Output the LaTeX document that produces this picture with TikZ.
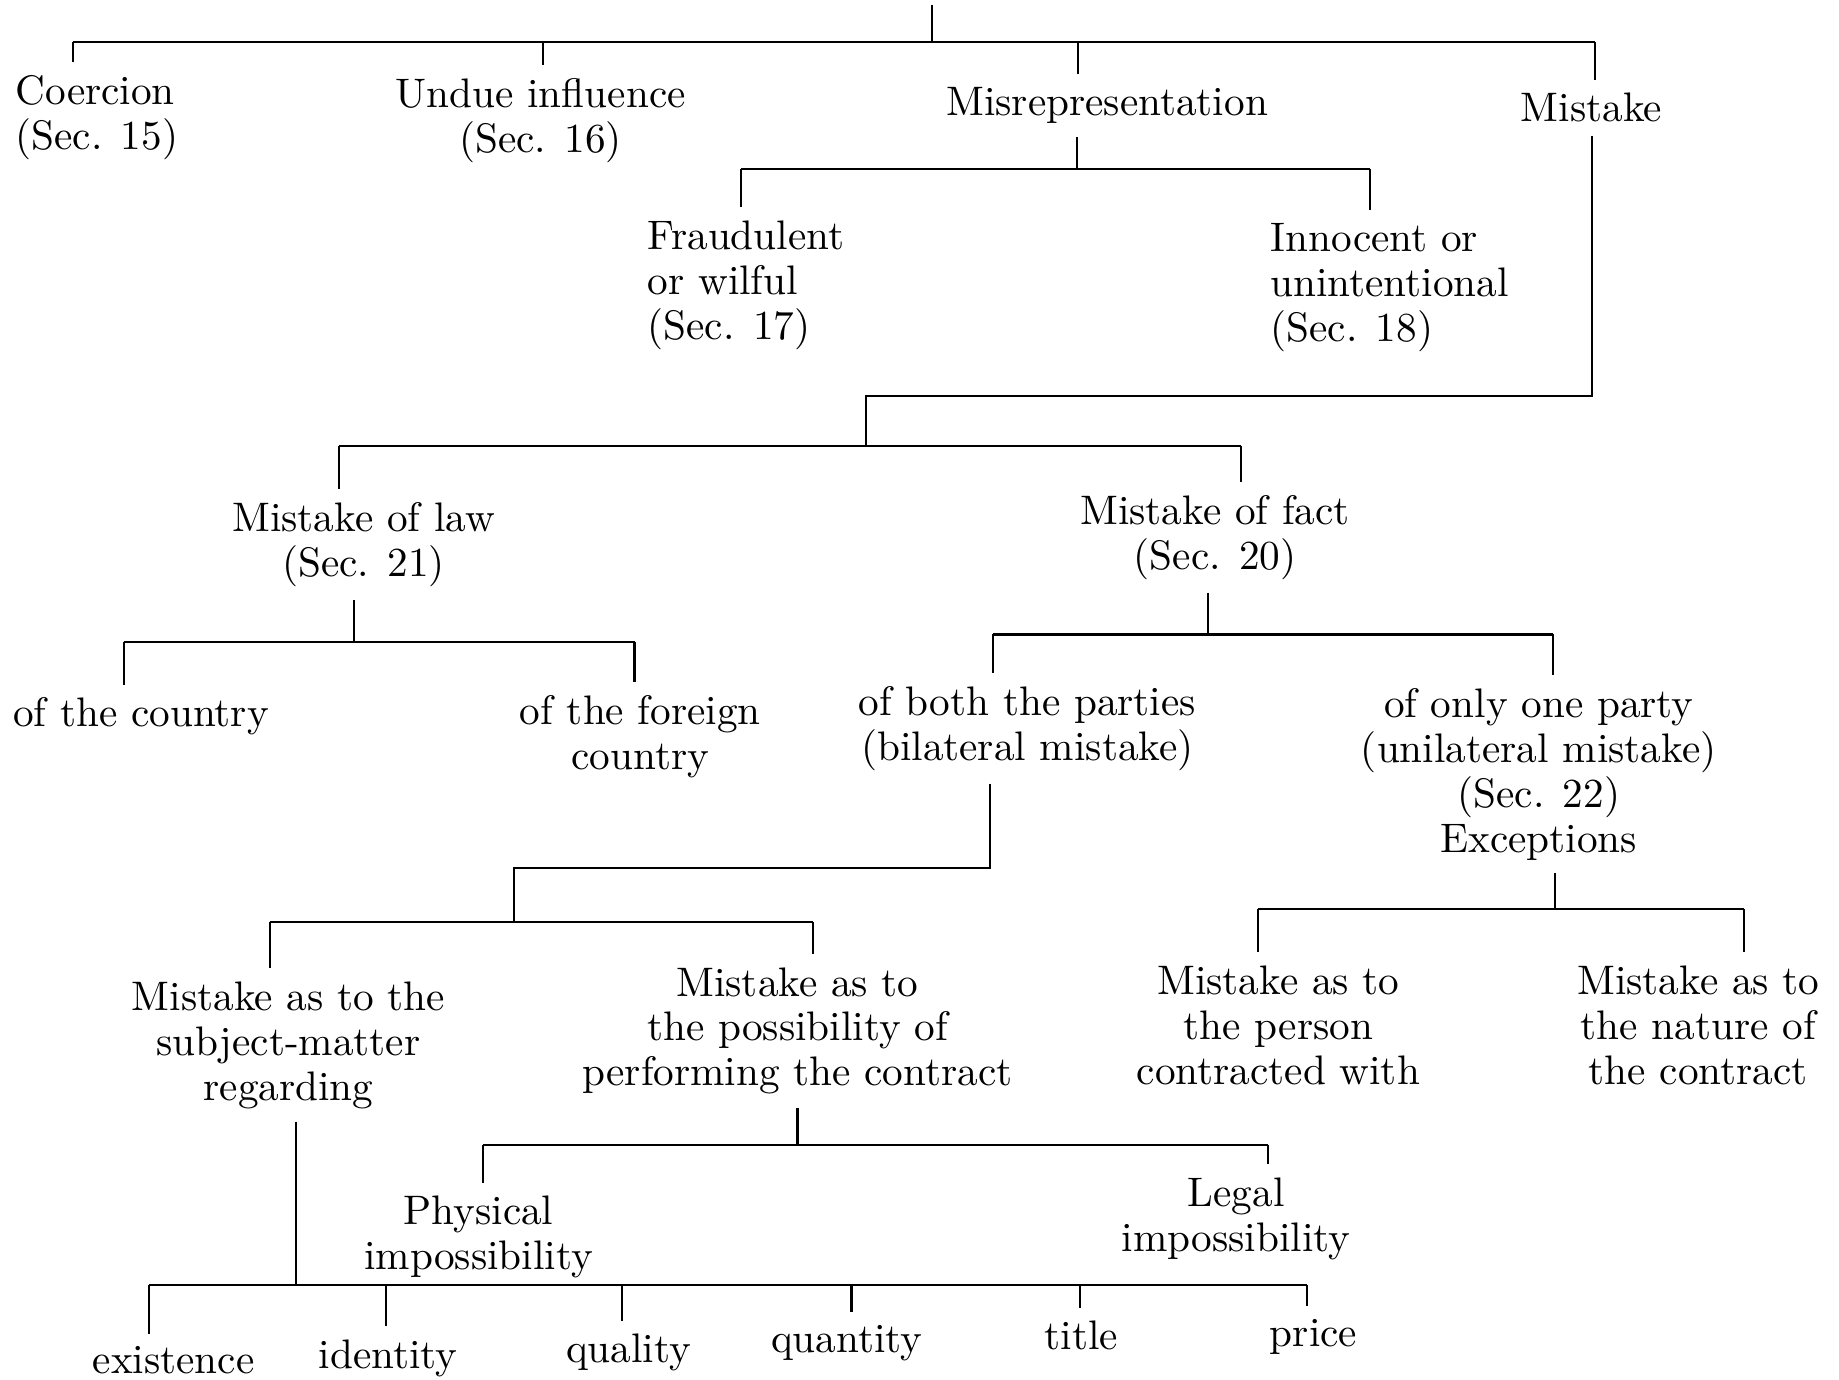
\documentclass[tikz,border=0pt]{standalone}
\usepackage{fontspec}
\begin{document}
\begin{tikzpicture}[x=0.01cm,y=-0.01cm,
  every node/.style={font=\fontsize{10pt}{10.9pt}\selectfont, inner sep=3pt},
  lbl/.style={align=center},
  lbll/.style={align=left, anchor=west},
  conn/.style={line width=0.5pt}]
\useasboundingbox (0,0) rectangle (1568,1176);

% ---------- nodes ----------
\node[lbll] (coer) at (2,100) {Coercion\\(Sec. 15)};
\node[lbl] (undue) at (461,103) {Undue influence\\(Sec. 16)};
\node[lbl] (misrep) at (944,90) {Misrepresentation};
\node[lbl] (mistake) at (1357,92) {Mistake};
\node[lbll] (fraud) at (541,243) {Fraudulent\\or wilful\\(Sec. 17)};
\node[lbll] (innoc) at (1072,245) {Innocent or\\unintentional\\(Sec. 18)};
\node[lbl] (mlaw) at (310,464) {Mistake of law\\(Sec. 21)};
\node[lbl] (mfact) at (1036,458) {Mistake of fact\\(Sec. 20)};
\node[lbll] (country) at (0,611) {of the country};
\node[lbl] (foreign) at (546,628) {of the foreign\\country};
\node[lbl] (bilat) at (876,621) {of both the parties\\(bilateral mistake)};
\node[lbl] (unilat) at (1312,660) {of only one party\\(unilateral mistake)\\(Sec. 22)\\Exceptions};
\node[lbl] (subj) at (246,891) {Mistake as to the\\subject-matter\\regarding};
\node[lbl] (poss) at (680,879) {Mistake as to\\the possibility of\\performing the contract};
\node[lbl] (person) at (1090,874) {Mistake as to\\the person\\contracted with};
\node[lbl] (nature) at (1448,874) {Mistake as to\\the nature of\\the contract};
\node[lbl] (phys) at (408,1055) {Physical\\impossibility};
\node[lbl] (legal) at (1054,1039) {Legal\\impossibility};
\node[lbl] (exist) at (148,1160) {existence};
\node[lbl] (ident) at (331,1158) {identity};
\node[lbl] (qual) at (536,1153) {quality};
\node[lbl] (quant) at (722,1145) {quantity};
\node[lbl] (title) at (922,1139) {title};
\node[lbl] (price) at (1120,1140) {price};

% ---------- junction coordinates ----------
\coordinate (top) at (795,4);
\coordinate (aJ) at (795,36);
\coordinate (aL) at (62,36);
\coordinate (aU) at (463,36);
\coordinate (aM) at (919,36);
\coordinate (aR) at (1360,36);
\coordinate (bJ) at (918,144);
\coordinate (bL) at (632,144);
\coordinate (bR) at (1168,144);
\coordinate (mk) at (1357,338);
\coordinate (cJ) at (738,338);
\coordinate (cT) at (738,380);
\coordinate (cL) at (289,380);
\coordinate (cR) at (1058,380);
\coordinate (dJ) at (302,547);
\coordinate (dL) at (106,547);
\coordinate (dR) at (541,547);
\coordinate (eJ) at (1030,541);
\coordinate (eL) at (847,541);
\coordinate (eR) at (1324,541);
\coordinate (fa) at (844,740);
\coordinate (fb) at (438,740);
\coordinate (fJ) at (438,786);
\coordinate (fL) at (230,786);
\coordinate (fR) at (693,786);
\coordinate (gJ) at (1326,775);
\coordinate (gL) at (1073,775);
\coordinate (gR) at (1487,775);
\coordinate (hJ) at (680,976);
\coordinate (hL) at (412,976);
\coordinate (hR) at (1081,976);
\coordinate (iJ) at (252,1096);
\coordinate (i1) at (127,1096);
\coordinate (i2) at (329,1096);
\coordinate (i3) at (530,1096);
\coordinate (i4) at (726,1096);
\coordinate (i5) at (921,1096);
\coordinate (i6) at (1114,1096);

% ---------- connectors ----------
\draw[conn] (top) -- (aJ);
\draw[conn] (aL) -- (aR);
\draw[conn] (aL) -- (aL |- coer.north);
\draw[conn] (aU) -- (aU |- undue.north);
\draw[conn] (aM) -- (aM |- misrep.north);
\draw[conn] (aR) -- (aR |- mistake.north);

\draw[conn] (bJ |- misrep.south) -- (bJ);
\draw[conn] (bL) -- (bR);
\draw[conn] (bL) -- (bL |- fraud.north);
\draw[conn] (bR) -- (bR |- innoc.north);

\draw[conn] (mk |- mistake.south) -- (mk) -- (cJ) -- (cT);
\draw[conn] (cL) -- (cR);
\draw[conn] (cL) -- (cL |- mlaw.north);
\draw[conn] (cR) -- (cR |- mfact.north);

\draw[conn] (dJ |- mlaw.south) -- (dJ);
\draw[conn] (dL) -- (dR);
\draw[conn] (dL) -- (dL |- country.north);
\draw[conn] (dR) -- (dR |- foreign.north);

\draw[conn] (eJ |- mfact.south) -- (eJ);
\draw[conn] (eL) -- (eR);
\draw[conn] (eL) -- (eL |- bilat.north);
\draw[conn] (eR) -- (eR |- unilat.north);

\draw[conn] (fa |- bilat.south) -- (fa) -- (fb) -- (fJ);
\draw[conn] (fL) -- (fR);
\draw[conn] (fL) -- (fL |- subj.north);
\draw[conn] (fR) -- (fR |- poss.north);

\draw[conn] (gJ |- unilat.south) -- (gJ);
\draw[conn] (gL) -- (gR);
\draw[conn] (gL) -- (gL |- person.north);
\draw[conn] (gR) -- (gR |- nature.north);

\draw[conn] (hJ |- poss.south) -- (hJ);
\draw[conn] (hL) -- (hR);
\draw[conn] (hL) -- (hL |- phys.north);
\draw[conn] (hR) -- (hR |- legal.north);

\draw[conn] (iJ |- subj.south) -- (iJ);
\draw[conn] (i1) -- (i6);
\draw[conn] (i1) -- (i1 |- exist.north);
\draw[conn] (i2) -- (i2 |- ident.north);
\draw[conn] (i3) -- (i3 |- qual.north);
\draw[conn] (i4) -- (i4 |- quant.north);
\draw[conn] (i5) -- (i5 |- title.north);
\draw[conn] (i6) -- (i6 |- price.north);
\end{tikzpicture}
\end{document}
